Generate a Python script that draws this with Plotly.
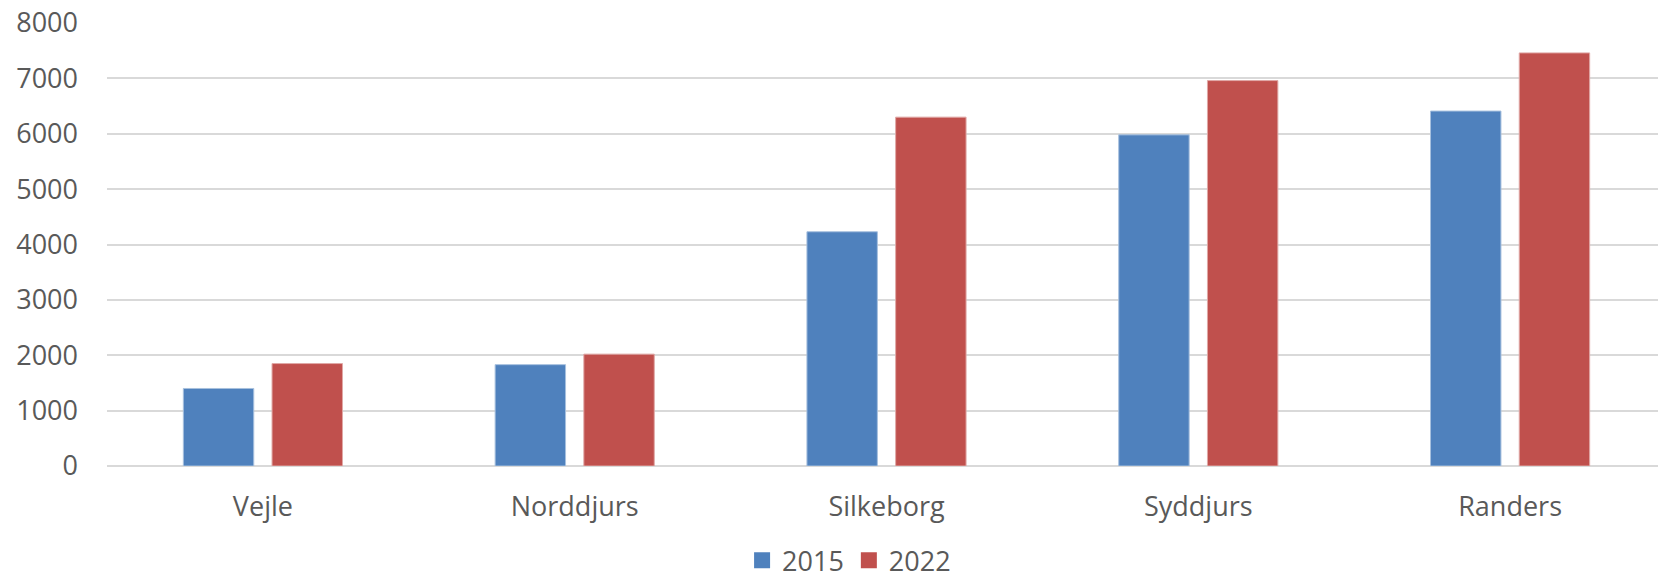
import plotly.graph_objects as go

categories = ["Vejle", "Norddjurs", "Silkeborg", "Syddjurs", "Randers"]
values_2015 = [1400, 1830, 4230, 5980, 6410]
values_2022 = [1850, 2020, 6300, 6960, 7460]
y_ticks = [0, 1000, 2000, 3000, 4000, 5000, 6000, 7000, 8000]
series_names = ["2015", "2022"]
series_colors = ["#4F81BD", "#C0504D"]
edge_colors = ["#A7C0DE", "#E0A8A6"]

FONT = "Open Sans, Liberation Sans, sans-serif"
GRAY = "#595959"

fig = go.Figure()
for name, vals, col, edge in zip(series_names, [values_2015, values_2022], series_colors, edge_colors):
    fig.add_trace(go.Bar(name=name, x=categories, y=vals, showlegend=False, legendgroup=name,
                         marker=dict(color=col, line=dict(color=edge, width=1))))
# legend entries with larger square symbols
for name, col in zip(series_names, series_colors):
    fig.add_trace(go.Scatter(name=name, x=[None], y=[None], mode="markers", legendgroup=name,
                             marker=dict(symbol="square", size=18, color=col)))

fig.update_layout(
    width=1666, height=581,
    margin=dict(l=107, r=0, t=23, b=115, autoexpand=False),
    paper_bgcolor="white", plot_bgcolor="white",
    barmode="group", bargap=0.431, bargroupgap=0.206,
    font=dict(family=FONT, size=27, color=GRAY),
    showlegend=True,
    legend=dict(orientation="h", x=0.476, xanchor="center", y=-0.214, yanchor="middle",
                font=dict(family=FONT, size=27, color=GRAY), itemwidth=30,
                traceorder="normal"),
)
fig.update_xaxes(showgrid=False, showline=False, zeroline=False, ticks="", automargin=False,
                 ticklabelstandoff=22, tickfont=dict(family=FONT, size=27, color=GRAY))
fig.update_yaxes(range=[0, 8000], tickvals=y_ticks, showgrid=True, gridcolor="#D9D9D9",
                 gridwidth=1.5, zeroline=True, zerolinecolor="#D9D9D9", zerolinewidth=1.5,
                 showline=False, ticks="", ticklabelstandoff=28, automargin=False,
                 tickfont=dict(family=FONT, size=27, color=GRAY))

fig.write_html(
    "out.html",
    config={"displayModeBar": False},
    post_script="document.body.style.margin='0px';document.body.style.overflow='hidden';",
)
